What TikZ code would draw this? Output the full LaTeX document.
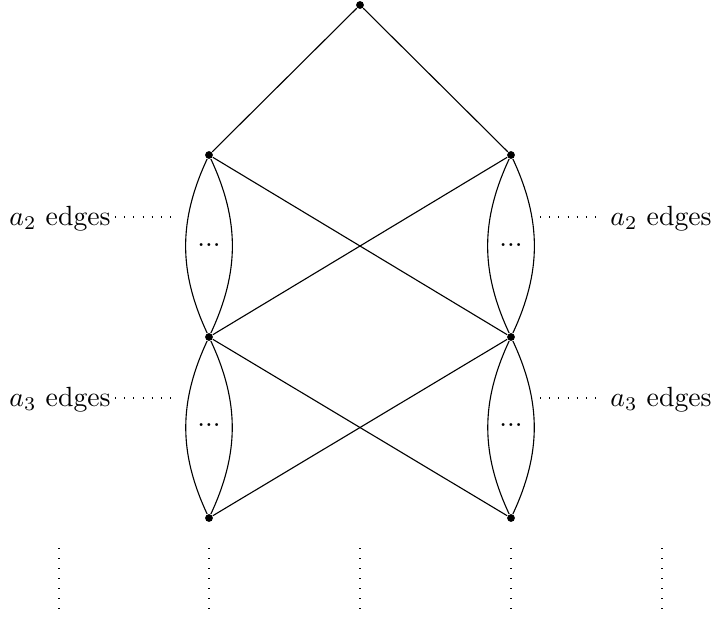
\documentclass[tikz,border=0pt]{standalone}
\begin{document}
\begin{tikzpicture}[x=0.36pt,y=-0.36pt,
  vtx/.style={circle,fill,inner sep=0pt,minimum size=2.8pt},
  hdots/.style={dash pattern=on 0.4pt off 2.9pt},
  vdots/.style={dash pattern=on 0.4pt off 3.2pt},
  lens/.style={bend left=25}]
\useasboundingbox (0,0) rectangle (711,618);
% vertices
\node[vtx] (t) at (360,5) {};
\node[vtx] (l1) at (209,155) {};
\node[vtx] (r1) at (511,155) {};
\node[vtx] (l2) at (209,337) {};
\node[vtx] (r2) at (511,337) {};
\node[vtx] (l3) at (209,518) {};
\node[vtx] (r3) at (511,518) {};
% straight edges
\draw (t) -- (l1);
\draw (t) -- (r1);
\draw (l1) -- (r2);
\draw (r1) -- (l2);
\draw (l2) -- (r3);
\draw (r2) -- (l3);
% lenses
\draw (l1) to[bend left=25] (l2);
\draw (l1) to[bend right=25] (l2);
\draw (r1) to[bend left=25] (r2);
\draw (r1) to[bend right=25] (r2);
\draw (l2) to[bend left=25] (l3);
\draw (l2) to[bend right=25] (l3);
\draw (r2) to[bend left=25] (r3);
\draw (r2) to[bend right=25] (r3);
% ellipses in lenses
\node (e1) at (209,245) {...};
\node (e2) at (511,245) {...};
\node (e3) at (209,425) {...};
\node (e4) at (511,425) {...};
% labels
\node (la2) at (60,219) {$a_2$ edges};
\node (ra2) at (661,219) {$a_2$ edges};
\node (la3) at (60,400) {$a_3$ edges};
\node (ra3) at (661,400) {$a_3$ edges};
\coordinate (la2a) at (115,217); \coordinate (la2b) at (172,217);
\coordinate (ra2a) at (540,217); \coordinate (ra2b) at (597,217);
\coordinate (la3a) at (115,398); \coordinate (la3b) at (172,398);
\coordinate (ra3a) at (540,398); \coordinate (ra3b) at (597,398);
\draw[hdots] (la2a) -- (la2b);
\draw[hdots] (ra2a) -- (ra2b);
\draw[hdots] (la3a) -- (la3b);
\draw[hdots] (ra3a) -- (ra3b);
% vertical dots
\foreach \x [count=\i] in {59,209,360,511,662} {
  \coordinate (va\i) at (\x,548);
  \coordinate (vb\i) at (\x,610);
  \draw[vdots] (va\i) -- (vb\i);
}
\end{tikzpicture}
\end{document}
